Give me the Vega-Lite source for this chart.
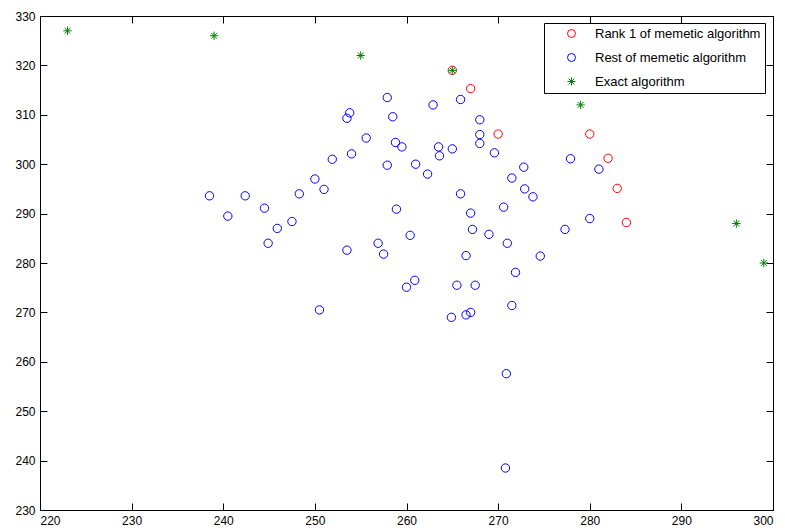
{
  "$schema": "https://vega.github.io/schema/vega-lite/v6.json",
  "width": 733,
  "height": 494,
  "autosize": {"type": "none"},
  "padding": {"left": 40, "top": 16, "right": 12, "bottom": 21},
  "background": "white",
  "config": {
    "view": {"stroke": "black", "strokeWidth": 1},
    "axis": {
      "domainColor": "black",
      "tickColor": "black",
      "labelColor": "black",
      "labelFont": "Liberation Sans",
      "labelFontSize": 12,
      "grid": false,
      "tickSize": -7,
      "title": null
    }
  },
  "data": {
    "values": [
      {"x": 238.5, "y": 293.6, "series": "Rest of memetic algorithm"},
      {"x": 240.5, "y": 289.5, "series": "Rest of memetic algorithm"},
      {"x": 242.4, "y": 293.6, "series": "Rest of memetic algorithm"},
      {"x": 244.5, "y": 291.1, "series": "Rest of memetic algorithm"},
      {"x": 244.9, "y": 284.0, "series": "Rest of memetic algorithm"},
      {"x": 245.9, "y": 287.0, "series": "Rest of memetic algorithm"},
      {"x": 247.5, "y": 288.4, "series": "Rest of memetic algorithm"},
      {"x": 248.3, "y": 294.0, "series": "Rest of memetic algorithm"},
      {"x": 250.0, "y": 297.0, "series": "Rest of memetic algorithm"},
      {"x": 251.0, "y": 294.9, "series": "Rest of memetic algorithm"},
      {"x": 251.9, "y": 301.0, "series": "Rest of memetic algorithm"},
      {"x": 253.5, "y": 309.3, "series": "Rest of memetic algorithm"},
      {"x": 253.8, "y": 310.4, "series": "Rest of memetic algorithm"},
      {"x": 254.0, "y": 302.1, "series": "Rest of memetic algorithm"},
      {"x": 255.6, "y": 305.3, "series": "Rest of memetic algorithm"},
      {"x": 257.9, "y": 313.5, "series": "Rest of memetic algorithm"},
      {"x": 258.5, "y": 309.6, "series": "Rest of memetic algorithm"},
      {"x": 258.8, "y": 304.4, "series": "Rest of memetic algorithm"},
      {"x": 257.9, "y": 299.8, "series": "Rest of memetic algorithm"},
      {"x": 258.9, "y": 290.9, "series": "Rest of memetic algorithm"},
      {"x": 253.5, "y": 282.6, "series": "Rest of memetic algorithm"},
      {"x": 256.9, "y": 284.0, "series": "Rest of memetic algorithm"},
      {"x": 257.5, "y": 281.8, "series": "Rest of memetic algorithm"},
      {"x": 250.5, "y": 270.5, "series": "Rest of memetic algorithm"},
      {"x": 262.9, "y": 312.0, "series": "Rest of memetic algorithm"},
      {"x": 265.9, "y": 313.1, "series": "Rest of memetic algorithm"},
      {"x": 268.0, "y": 309.0, "series": "Rest of memetic algorithm"},
      {"x": 268.0, "y": 306.0, "series": "Rest of memetic algorithm"},
      {"x": 268.0, "y": 304.2, "series": "Rest of memetic algorithm"},
      {"x": 269.6, "y": 302.3, "series": "Rest of memetic algorithm"},
      {"x": 263.5, "y": 303.5, "series": "Rest of memetic algorithm"},
      {"x": 263.6, "y": 301.7, "series": "Rest of memetic algorithm"},
      {"x": 265.0, "y": 303.1, "series": "Rest of memetic algorithm"},
      {"x": 259.5, "y": 303.5, "series": "Rest of memetic algorithm"},
      {"x": 261.0, "y": 300.0, "series": "Rest of memetic algorithm"},
      {"x": 262.3, "y": 298.0, "series": "Rest of memetic algorithm"},
      {"x": 260.4, "y": 285.6, "series": "Rest of memetic algorithm"},
      {"x": 265.9, "y": 294.0, "series": "Rest of memetic algorithm"},
      {"x": 267.0, "y": 290.1, "series": "Rest of memetic algorithm"},
      {"x": 267.2, "y": 286.8, "series": "Rest of memetic algorithm"},
      {"x": 269.0, "y": 285.8, "series": "Rest of memetic algorithm"},
      {"x": 270.6, "y": 291.3, "series": "Rest of memetic algorithm"},
      {"x": 271.0, "y": 284.0, "series": "Rest of memetic algorithm"},
      {"x": 271.5, "y": 297.2, "series": "Rest of memetic algorithm"},
      {"x": 272.8, "y": 299.4, "series": "Rest of memetic algorithm"},
      {"x": 272.9, "y": 295.0, "series": "Rest of memetic algorithm"},
      {"x": 273.8, "y": 293.4, "series": "Rest of memetic algorithm"},
      {"x": 277.9, "y": 301.1, "series": "Rest of memetic algorithm"},
      {"x": 281.0, "y": 299.0, "series": "Rest of memetic algorithm"},
      {"x": 280.0, "y": 289.0, "series": "Rest of memetic algorithm"},
      {"x": 277.3, "y": 286.8, "series": "Rest of memetic algorithm"},
      {"x": 266.5, "y": 281.5, "series": "Rest of memetic algorithm"},
      {"x": 274.6, "y": 281.4, "series": "Rest of memetic algorithm"},
      {"x": 271.9, "y": 278.1, "series": "Rest of memetic algorithm"},
      {"x": 260.0, "y": 275.1, "series": "Rest of memetic algorithm"},
      {"x": 260.9, "y": 276.5, "series": "Rest of memetic algorithm"},
      {"x": 265.5, "y": 275.5, "series": "Rest of memetic algorithm"},
      {"x": 267.5, "y": 275.5, "series": "Rest of memetic algorithm"},
      {"x": 264.9, "y": 269.0, "series": "Rest of memetic algorithm"},
      {"x": 266.5, "y": 269.5, "series": "Rest of memetic algorithm"},
      {"x": 267.0, "y": 270.0, "series": "Rest of memetic algorithm"},
      {"x": 271.5, "y": 271.4, "series": "Rest of memetic algorithm"},
      {"x": 270.9, "y": 257.6, "series": "Rest of memetic algorithm"},
      {"x": 270.8, "y": 238.5, "series": "Rest of memetic algorithm"},
      {"x": 265.0, "y": 319.0, "series": "Rank 1 of memetic algorithm"},
      {"x": 267.0, "y": 315.3, "series": "Rank 1 of memetic algorithm"},
      {"x": 270.0, "y": 306.1, "series": "Rank 1 of memetic algorithm"},
      {"x": 280.0, "y": 306.1, "series": "Rank 1 of memetic algorithm"},
      {"x": 282.0, "y": 301.2, "series": "Rank 1 of memetic algorithm"},
      {"x": 283.0, "y": 295.1, "series": "Rank 1 of memetic algorithm"},
      {"x": 284.0, "y": 288.2, "series": "Rank 1 of memetic algorithm"},
      {"x": 223.0, "y": 327.0, "series": "Exact algorithm"},
      {"x": 239.0, "y": 326.0, "series": "Exact algorithm"},
      {"x": 255.0, "y": 322.0, "series": "Exact algorithm"},
      {"x": 265.0, "y": 319.0, "series": "Exact algorithm"},
      {"x": 279.0, "y": 312.0, "series": "Exact algorithm"},
      {"x": 296.0, "y": 288.0, "series": "Exact algorithm"},
      {"x": 299.0, "y": 280.0, "series": "Exact algorithm"}
    ]
  },
  "layer": [
    {
      "mark": {"type": "point", "filled": false, "strokeWidth": 1, "opacity": 1},
      "encoding": {
        "x": {
          "field": "x", "type": "quantitative",
          "scale": {"domain": [220, 300], "nice": false, "zero": false},
          "axis": {"orient": "bottom", "values": [220, 230, 240, 250, 260, 270, 280, 290, 300], "labelPadding": 12}
        },
        "y": {
          "field": "y", "type": "quantitative",
          "scale": {"domain": [230, 330], "nice": false, "zero": false},
          "axis": {"orient": "left", "values": [230, 240, 250, 260, 270, 280, 290, 300, 310, 320, 330], "labelPadding": 12}
        },
        "color": {
          "field": "series", "type": "nominal",
          "scale": {
            "domain": ["Rank 1 of memetic algorithm", "Rest of memetic algorithm", "Exact algorithm"],
            "range": ["#ff0000", "#0000ff", "#008000"]
          },
          "legend": {
            "title": null,
            "orient": "none",
            "legendX": 504,
            "legendY": 7,
            "direction": "vertical",
            "strokeColor": "black",
            "fillColor": "white",
            "padding": 4,
            "rowPadding": 10,
            "symbolOffset": 17,
            "labelOffset": 17,
            "labelLimit": 400,
            "labelFont": "Liberation Sans",
            "labelFontSize": 13,
            "labelColor": "black",
            "symbolSize": 64,
            "symbolStrokeWidth": 1
          }
        },
        "shape": {
          "field": "series", "type": "nominal",
          "scale": {
            "domain": ["Rank 1 of memetic algorithm", "Rest of memetic algorithm", "Exact algorithm"],
            "range": ["circle", "circle", "M-1,0L1,0M0,-1L0,1M-0.7,-0.7L0.7,0.7M-0.7,0.7L0.7,-0.7"]
          }
        },
        "size": {"value": 70}
      }
    },
    {
      "mark": {"type": "point", "opacity": 0},
      "encoding": {
        "x": {
          "field": "x", "type": "quantitative",
          "scale": {"domain": [220, 300], "nice": false, "zero": false},
          "axis": {"orient": "top", "values": [220, 230, 240, 250, 260, 270, 280, 290, 300], "labels": false}
        },
        "y": {
          "field": "y", "type": "quantitative",
          "scale": {"domain": [230, 330], "nice": false, "zero": false},
          "axis": {"orient": "right", "values": [230, 240, 250, 260, 270, 280, 290, 300, 310, 320, 330], "labels": false}
        }
      }
    }
  ],
  "resolve": {"axis": {"x": "independent", "y": "independent"}}
}
